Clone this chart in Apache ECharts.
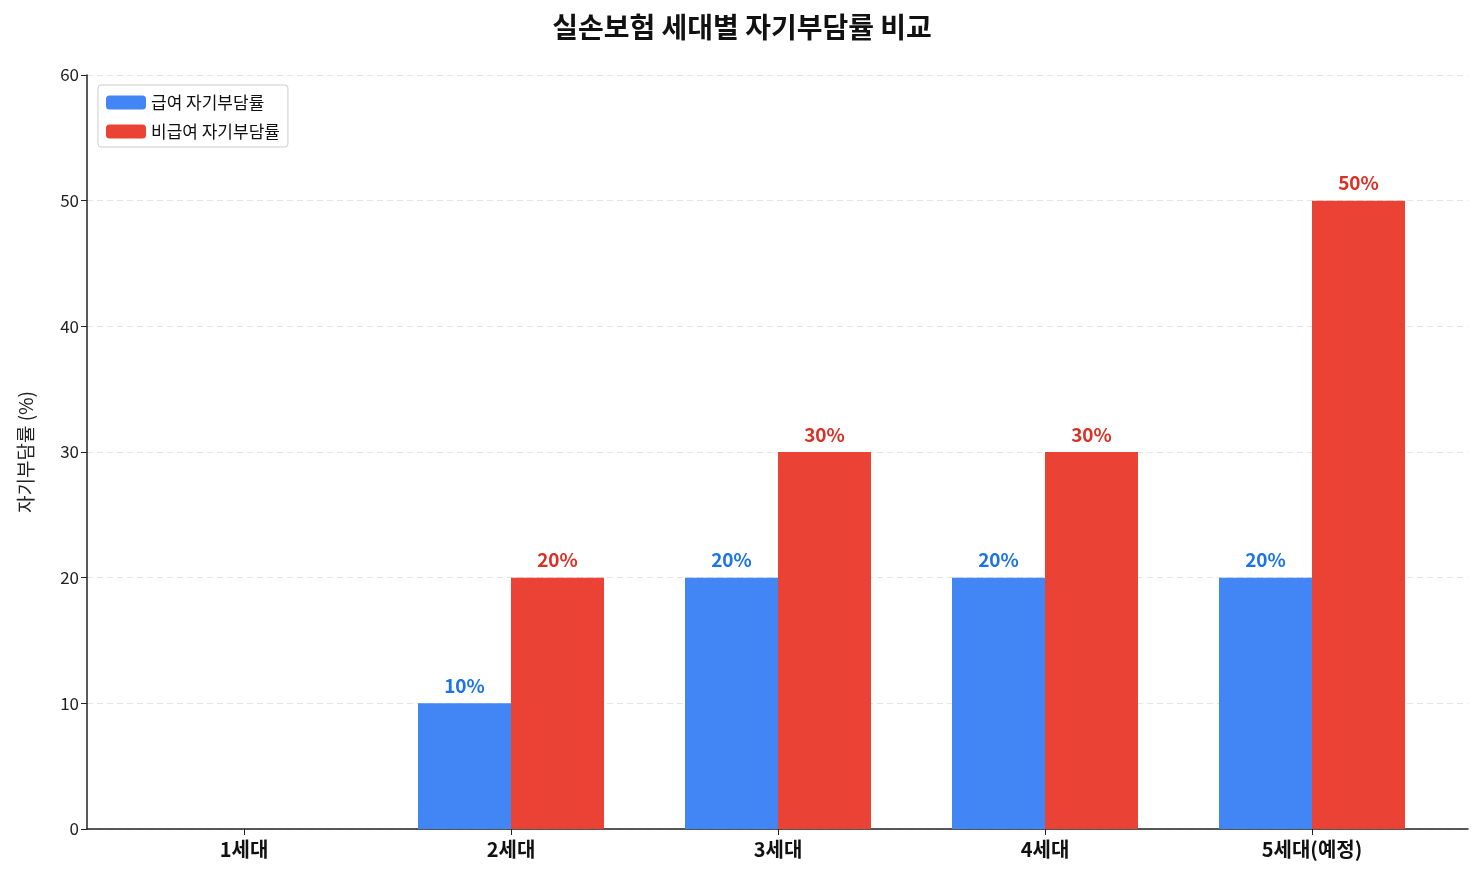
<!DOCTYPE html>
<html><head><meta charset="utf-8">
<script src="https://cdn.jsdelivr.net/npm/echarts@6/dist/echarts.min.js"></script>
<style>body{margin:0}#c{width:1484px;height:884px}</style></head>
<body><div id="c"></div>
<script>
const categories=['1세대','2세대','3세대','4세대','5세대(예정)'];
const covered=[0,10,20,20,20];
const nonCovered=[0,20,30,30,50];
const seriesNames=['급여 자기부담률','비급여 자기부담률'];
const yTicks=[0,10,20,30,40,50,60];
const F='"Noto Sans CJK KR","Noto Sans",sans-serif';
const lbl=(c)=>({show:true,position:'top',distance:8,color:c,fontSize:19,fontWeight:'bold',fontFamily:F,
  formatter:p=>p.value>0?p.value+'%':''});
const chart=echarts.init(document.getElementById('c'));
chart.setOption({
  animation:false,
  title:{text:'실손보험 세대별 자기부담률 비교',left:'center',top:8,textStyle:{fontSize:28,fontWeight:'bold',fontFamily:F,color:'#111'}},
  legend:{data:seriesNames,orient:'vertical',left:98,top:85,itemWidth:40,itemHeight:14,itemGap:12,padding:[9,8,7,8],
    borderColor:'#ccc',borderWidth:1,borderRadius:3,backgroundColor:'#fff',
    textStyle:{fontSize:17,fontFamily:F,color:'#111'}},
  grid:[{left:87,right:16,top:75,bottom:55},{left:110.5,right:38.5,top:75,bottom:55}],
  xAxis:[
    {type:'value',gridIndex:0,min:0,max:1,axisLine:{show:true,lineStyle:{color:'#222',width:1.5}},axisTick:{show:false},axisLabel:{show:false},splitLine:{show:false}},
    {type:'category',gridIndex:1,data:categories,axisLine:{show:false},axisTick:{show:true,alignWithLabel:true,length:6,lineStyle:{color:'#222'}},
     axisLabel:{fontSize:20,fontWeight:'bold',fontFamily:F,color:'#111',margin:10}}
  ],
  yAxis:[
    {type:'value',gridIndex:0,min:0,max:60,interval:10,name:'자기부담률 (%)',nameLocation:'middle',nameGap:52,
     nameTextStyle:{fontSize:19,fontFamily:F,color:'#222'},
     axisLine:{show:true,lineStyle:{color:'#222',width:1.5}},axisTick:{show:true,length:6,lineStyle:{color:'#222'}},
     axisLabel:{fontSize:17,fontFamily:F,color:'#222',margin:8},
     splitLine:{show:true,lineStyle:{color:'#e4e4e4',type:[6,4]}}},
    {type:'value',gridIndex:1,min:0,max:60,interval:10,show:false,splitLine:{show:false}}
  ],
  series:[
    {name:seriesNames[0],type:'bar',xAxisIndex:1,yAxisIndex:1,data:covered,barWidth:93,barGap:'0%',itemStyle:{color:'#4285f4'},label:lbl('#1a73e8')},
    {name:seriesNames[1],type:'bar',xAxisIndex:1,yAxisIndex:1,data:nonCovered,barWidth:93,barGap:'0%',itemStyle:{color:'#ea4335'},label:lbl('#d93025')}
  ]
});
</script></body></html>
